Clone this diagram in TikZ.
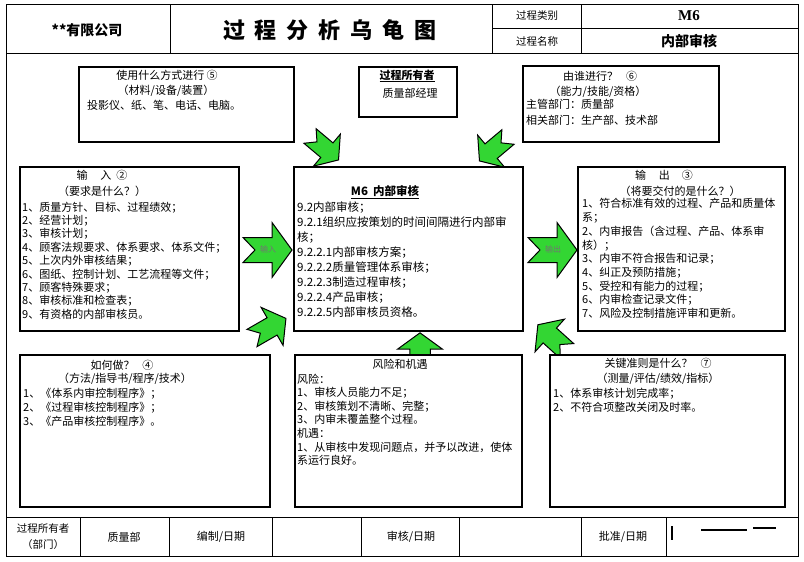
\documentclass[tikz,border=0pt]{standalone}
\usepackage{fontspec}
\setmainfont{Noto Sans CJK SC}
\newfontfamily\latinserif{Liberation Serif}
\usepackage{tikz}
\usetikzlibrary{positioning,backgrounds}
\definecolor{turtlegreen}{HTML}{33D633}
\tikzset{
  tbox/.style ={rectangle, draw=black, line width=1.1pt, fill=white, anchor=north west,
                inner sep=0pt, outer sep=0pt},
  ttl/.style  ={font=\fontsize{11}{15}\selectfont, align=center, inner sep=0pt},
  tbody/.style={font=\fontsize{11}{13.6}\selectfont, align=left, inner sep=0pt, anchor=north west},
  cell/.style ={font=\fontsize{11}{16}\selectfont, align=center, inner sep=0pt},
  grid/.style ={line width=1pt},
  alabel/.style={font=\fontsize{8}{8}\selectfont, text=black!55, inner sep=0pt},
  garrow/.pic ={\draw[line width=1pt, fill=turtlegreen, line join=miter]
                (0,-12.5) -- (29,-12.5) -- (29,-27.5) -- (49,0) -- (29,27.5)
                -- (29,12.5) -- (0,12.5) -- (12,0) -- cycle;},
}

\begin{document}
\begin{tikzpicture}[x=1pt, y=-1pt]
  \useasboundingbox (0,0) rectangle (804,562);
  % frame and header / footer grid
  \draw[grid] (6,4) rectangle (798,556);
  \draw[grid] (6,53) -- (798,53);
  \draw[grid] (170,4) -- (170,53) (492,4) -- (492,53) (581,4) -- (581,53);
  \draw[grid] (492,28) -- (798,28);
  \draw[grid] (6,517) -- (798,517);
  \foreach \cx in {80,169,272,361,459,581,666}
    \draw[grid] (\cx,517) -- (\cx,556);
  \draw[line width=1.2pt] (701,530) -- (747,530) (753,528) -- (776,528) (672,526) -- (672,540);

  \node[font=\bfseries\fontsize{14}{14}\selectfont] (corp) at (87,30) {**有限公司};
  \node[font=\bfseries\fontsize{22}{22}\selectfont] (title) at (330,30)
    {过\hspace{10pt}程\hspace{10pt}分\hspace{10pt}析\hspace{10pt}乌\hspace{10pt}龟\hspace{10pt}图};
  \node[cell, font=\fontsize{10.5}{10.5}\selectfont] (kind) at (537,16) {过程类别};
  \node[font=\latinserif\bfseries\fontsize{15}{15}\selectfont] (kindv) at (689,16) {M6};
  \node[cell, font=\fontsize{10.5}{10.5}\selectfont] (pname) at (537,41) {过程名称};
  \node[font=\bfseries\fontsize{14}{14}\selectfont] (pnamev) at (689,41) {内部审核};

  % green arrows
  \begin{scope}[on background layer]
    \pic at (243,250) {garrow};
    \pic at (528,250) {garrow};
    \pic[rotate=-40, scale=0.76] at (310,136) {garrow};
    \pic[rotate=-140, scale=0.76] at (508,137) {garrow};
    \pic[rotate=30, scale=0.8] at (252,338) {garrow};
    \pic[rotate=138, scale=0.8] at (567,351) {garrow};
    \pic[rotate=90, scale=0.82] at (420,373) {garrow};
  \end{scope}
  \node[alabel] (inlbl) at (268,249) {输入};
  \node[alabel] (outlbl) at (553,249) {输出};

  % how (materials)
  \node[tbox, minimum width=215pt, minimum height=75pt] (mat) at (79,67) {};
  \node[ttl] (matt) at (167,75) {使用什么方式进行 ⑤};
  \node[ttl] (matt2) at (166,91) {（材料/设备/装置）};
  \node[ttl, anchor=west] (matb) at (87,105) {投影仪、纸、笔、电话、电脑。};

  % owner
  \node[tbox, minimum width=98pt, minimum height=50pt] (own) at (359,67) {};
  \node[ttl, font=\bfseries\fontsize{11}{11}\selectfont] (ownt) at (407,76) {\underline{过程所有者}};
  \node[ttl] (ownb) at (410,93) {质量部经理};

  % who
  \node[tbox, minimum width=196pt, minimum height=76pt] (who) at (523,66) {};
  \node[ttl] (whot) at (600,76) {由谁进行？\hspace{8pt}⑥};
  \node[ttl] (whot2) at (598,92) {（能力/技能/资格）};
  \node[tbody, font=\fontsize{11}{16}\selectfont] (whob) at (526,99.5)
    {主管部门：质量部\\相关部门：生产部、技术部};

  % input
  \node[tbox, minimum width=219pt, minimum height=164pt] (inp) at (20,167) {};
  \node[ttl] (inpt) at (102,175) {输\hspace{13pt}入\hspace{5pt}②};
  \node[ttl] (inpt2) at (102,191) {（要求是什么？）};
  \node[tbody, font=\fontsize{11}{13.4}\selectfont] (inpb) at (22,201.5)
    {1、质量方针、目标、过程绩效；\\2、经营计划；\\3、审核计划；\\
     4、顾客法规要求、体系要求、体系文件；\\5、上次内外审核结果；\\
     6、图纸、控制计划、工艺流程等文件；\\7、顾客特殊要求；\\
     8、审核标准和检查表；\\9、有资格的内部审核员。};

  % process
  \node[tbox, minimum width=229pt, minimum height=164pt] (proc) at (294,167) {};
  \node[ttl, font=\bfseries\fontsize{11.5}{11.5}\selectfont] (proct) at (385,192) {\underline{M6\hspace{5pt}内部审核}};
  \node[tbody, font=\fontsize{11.5}{15}\selectfont] (procb) at (297,201.2)
    {9.2内部审核；\\9.2.1组织应按策划的时间间隔进行内部审\\核；\\
     9.2.2.1内部审核方案；\\9.2.2.2质量管理体系审核；\\9.2.2.3制造过程审核；\\
     9.2.2.4产品审核；\\9.2.2.5内部审核员资格。};

  % output
  \node[tbox, minimum width=207pt, minimum height=164pt] (outp) at (578,167) {};
  \node[ttl] (outpt) at (664,175) {输\hspace{13pt}出\hspace{12pt}③};
  \node[ttl] (outpt2) at (680,191) {（将要交付的是什么？）};
  \node[tbody, font=\fontsize{11}{13.7}\selectfont] (outpb) at (582,198.5)
    {1、符合标准有效的过程、产品和质量体\\系；\\2、内审报告（含过程、产品、体系审\\核）；\\
     3、内审不符合报告和记录；\\4、纠正及预防措施；\\5、受控和有能力的过程；\\
     6、内审检查记录文件；\\7、风险及控制措施评审和更新。};

  % method
  \node[tbox, minimum width=250pt, minimum height=152pt] (meth) at (20,355) {};
  \node[ttl] (metht) at (122,365) {如何做？\hspace{8pt}④};
  \node[ttl] (metht2) at (125,379) {（方法/指导书/程序/技术）};
  \node[tbody, font=\fontsize{11}{14}\selectfont] (methb) at (23,387.5)
    {1、《体系内审控制程序》；\\2、《过程审核控制程序》；\\3、《产品审核控制程序》。};

  % risks
  \node[tbox, minimum width=227pt, minimum height=152pt] (risk) at (295,355) {};
  \node[ttl] (riskt) at (400,364) {风险和机遇};
  \node[tbody, font=\fontsize{11}{13.6}\selectfont] (riskb) at (297,373.5)
    {风险：\\1、审核人员能力不足；\\2、审核策划不清晰、完整；\\3、内审未覆盖整个过程。\\
     机遇：\\1、从审核中发现问题点，并予以改进，使体\\系运行良好。};

  % criteria
  \node[tbox, minimum width=235pt, minimum height=152pt] (crit) at (550,355) {};
  \node[ttl] (critt) at (658,363) {关键准则是什么？\hspace{8pt}⑦};
  \node[ttl] (critt2) at (658,379) {（测量/评估/绩效/指标）};
  \node[tbody, font=\fontsize{11}{14}\selectfont] (critb) at (553,387.5)
    {1、体系审核计划完成率；\\2、不符合项整改关闭及时率。};

  % footer
  \node[cell, font=\fontsize{10.5}{16}\selectfont] (fown) at (43,537) {过程所有者\\（部门）};
  \node[cell] (fdept) at (124,537) {质量部};
  \node[cell] (fedit) at (221,537) {编制/日期};
  \node[cell] (frev) at (411,537) {审核/日期};
  \node[cell] (fappr) at (623,537) {批准/日期};
\end{tikzpicture}
\end{document}
